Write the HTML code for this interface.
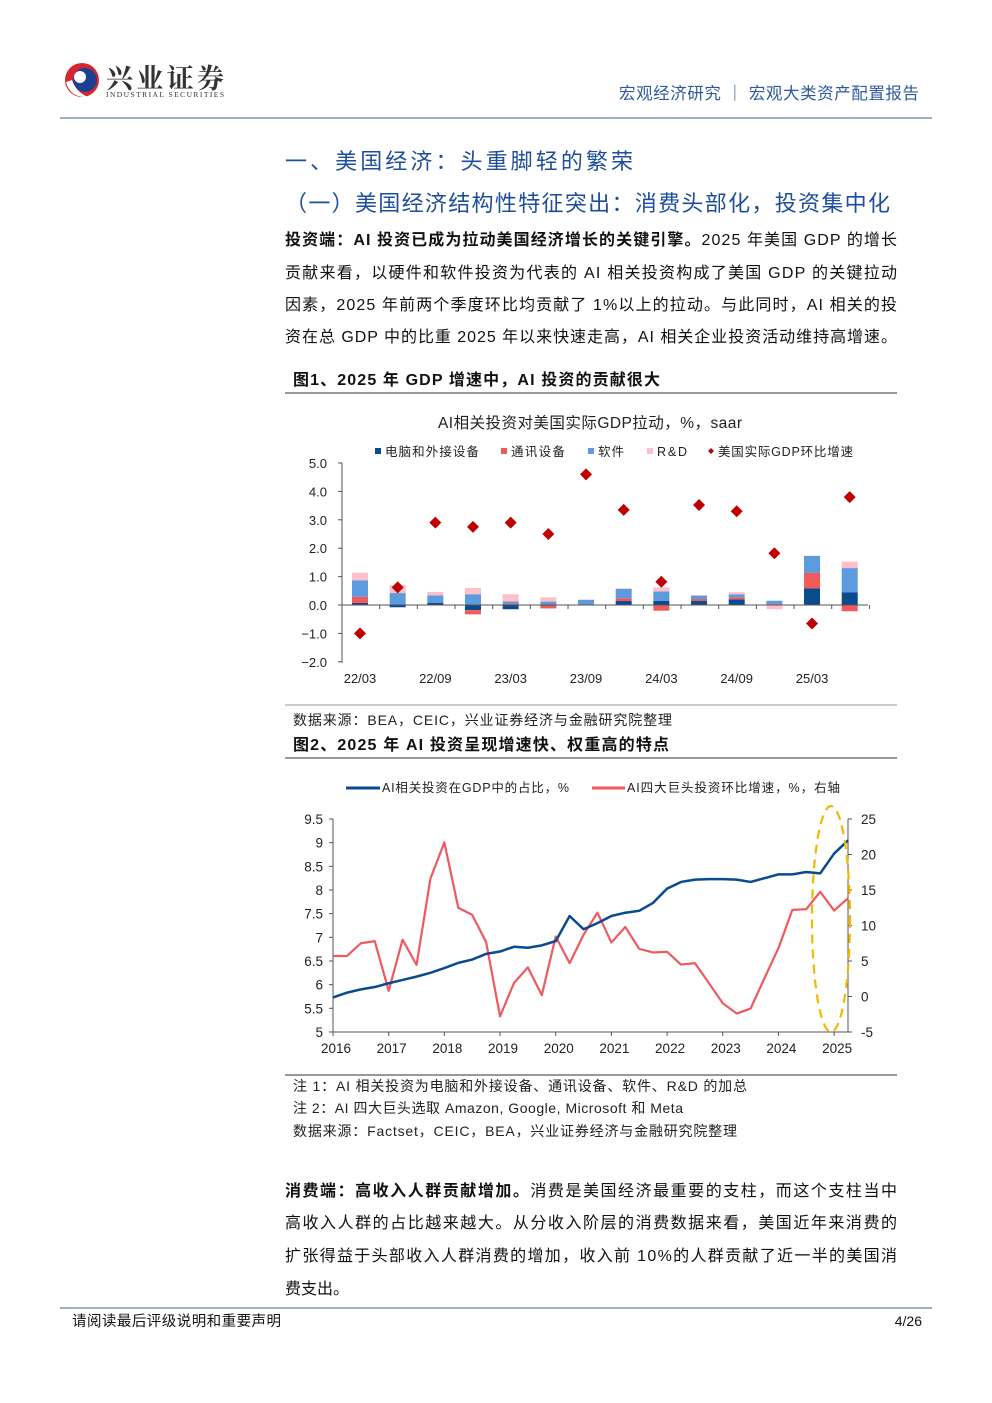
<!DOCTYPE html>
<html><head><meta charset="utf-8"><style>
body{margin:0;background:#fff}
svg{display:block;font-family:"Liberation Sans","Noto Sans CJK SC",sans-serif}
</style></head><body>
<svg id="s" width="992" height="1403" viewBox="0 0 992 1403" xmlns="http://www.w3.org/2000/svg">
<g>
<circle cx="82" cy="80" r="17" fill="#d7262d"/>
<circle cx="85" cy="80" r="12" fill="#1d3f91"/>
<circle cx="80" cy="77" r="6" fill="#fff"/>
<path d="M66 82 Q70 98 88 97 Q76 92 72 80 Z" fill="#fff"/>
<text x="106" y="88" font-size="27" font-weight="bold" fill="#333" font-family="'Noto Serif CJK SC',serif" textLength="118">兴业证券</text>
<text x="106" y="97" font-size="7.5" fill="#333" font-family="'Liberation Serif',serif" textLength="118">INDUSTRIAL SECURITIES</text>
<text x="619" y="99" font-size="16.5" fill="#2e5a9c" textLength="300">宏观经济研究 ｜ 宏观大类资产配置报告</text>
<line x1="60" y1="118" x2="932" y2="118" stroke="#7f96b8" stroke-width="1.5"/>
</g>
<text x="285" y="169" font-size="22" fill="#1f4e9a" textLength="348">一、美国经济：头重脚轻的繁荣</text>
<text x="285" y="211" font-size="22" fill="#1f4e9a" textLength="605">（一）美国经济结构性特征突出：消费头部化，投资集中化</text>
<g font-size="16" fill="#111">
<text x="285" y="245" textLength="612" lengthAdjust="spacing"><tspan font-weight="bold">投资端：AI 投资已成为拉动美国经济增长的关键引擎。</tspan>2025 年美国 GDP 的增长</text>
<text x="285" y="278" textLength="612" lengthAdjust="spacing">贡献来看，以硬件和软件投资为代表的 AI 相关投资构成了美国 GDP 的关键拉动</text>
<text x="285" y="310" textLength="612" lengthAdjust="spacing">因素，2025 年前两个季度环比均贡献了 1%以上的拉动。与此同时，AI 相关的投</text>
<text x="285" y="342" textLength="612" lengthAdjust="spacing">资在总 GDP 中的比重 2025 年以来快速走高，AI 相关企业投资活动维持高增速。</text>
<text x="293" y="385" font-weight="bold" textLength="367">图1、2025 年 GDP 增速中，AI 投资的贡献很大</text>
<text x="293" y="750" font-weight="bold" textLength="376">图2、2025 年 AI 投资呈现增速快、权重高的特点</text>
<text x="285" y="1196" textLength="612" lengthAdjust="spacing"><tspan font-weight="bold">消费端：高收入人群贡献增加。</tspan>消费是美国经济最重要的支柱，而这个支柱当中</text>
<text x="285" y="1228" textLength="612" lengthAdjust="spacing">高收入人群的占比越来越大。从分收入阶层的消费数据来看，美国近年来消费的</text>
<text x="285" y="1261" textLength="612" lengthAdjust="spacing">扩张得益于头部收入人群消费的增加，收入前 10%的人群贡献了近一半的美国消</text>
<text x="285" y="1294">费支出。</text>
</g>
<line x1="285" y1="393" x2="897" y2="393" stroke="#333" stroke-width="1"/>
<line x1="285" y1="705" x2="897" y2="705" stroke="#999" stroke-width="1"/>
<line x1="285" y1="758" x2="897" y2="758" stroke="#333" stroke-width="1"/>
<line x1="285" y1="1075" x2="897" y2="1075" stroke="#333" stroke-width="1"/>
<g font-size="14" fill="#222">
<text x="293" y="725" textLength="379">数据来源：BEA，CEIC，兴业证券经济与金融研究院整理</text>
<text x="293" y="1091" textLength="454">注 1：AI 相关投资为电脑和外接设备、通讯设备、软件、R&amp;D 的加总</text>
<text x="293" y="1113" textLength="390">注 2：AI 四大巨头选取 Amazon, Google, Microsoft 和 Meta</text>
<text x="293" y="1136" textLength="444">数据来源：Factset，CEIC，BEA，兴业证券经济与金融研究院整理</text>
</g>
<text x="438" y="428" font-size="15.5" fill="#222" textLength="304">AI相关投资对美国实际GDP拉动，%，saar</text>
<g font-size="12.5" fill="#222">
<rect x="375" y="448" width="6" height="6" fill="#0a4a8f"/><text x="385" y="456" textLength="94">电脑和外接设备</text>
<rect x="501" y="448" width="6" height="6" fill="#f05a5a"/><text x="511" y="456" textLength="54">通讯设备</text>
<rect x="588" y="448" width="6" height="6" fill="#5b9bde"/><text x="598" y="456" textLength="26">软件</text>
<rect x="647" y="448" width="6" height="6" fill="#ffc0cb"/><text x="657" y="456" textLength="30">R&amp;D</text>
<path d="M711 448 L714 451 L711 454 L708 451Z" fill="#c00000"/><text x="718" y="456" textLength="135">美国实际GDP环比增速</text>
</g>
<g id="c1"></g>
<g font-size="12.5" fill="#222">
<line x1="346" y1="788" x2="380" y2="788" stroke="#0a4a8f" stroke-width="3"/><text x="382" y="792" textLength="187">AI相关投资在GDP中的占比，%</text>
<line x1="592" y1="788" x2="625" y2="788" stroke="#ee5a5f" stroke-width="3"/><text x="627" y="792" textLength="213">AI四大巨头投资环比增速，%，右轴</text>
</g>
<g id="c2"></g>
<line x1="60" y1="1308" x2="932" y2="1308" stroke="#7f96b8" stroke-width="1.5"/>
<text x="72" y="1326" font-size="14.5" fill="#111" textLength="209">请阅读最后评级说明和重要声明</text>
<text x="922" y="1326" font-size="14" fill="#111" text-anchor="end">4/26</text>
</svg>
<script>
var NS="http://www.w3.org/2000/svg";
function el(p,t,a,txt){var e=document.createElementNS(NS,t);for(var k in a)e.setAttribute(k,a[k]);if(txt!=null)e.textContent=txt;p.appendChild(e);return e;}
var c1=document.getElementById("c1");
var Y=function(v){return 605-v*28.4;};
var ax=342,x0=360,dx=37.67;
var bars=[[0.07,0.22,0.58,0.27],[-0.08,0,0.42,0.28],[0.07,0,0.27,0.12],[-0.18,-0.15,0.38,0.22],[-0.15,0.05,0.08,0.25],[0,-0.12,0.12,0.15],[0,0,0.18,0.02],[0.14,0.1,0.33,0.02],[0.15,-0.2,0.33,0.14],[0.14,0.07,0.12,0.02],[0.2,0.07,0.1,0.08],[0,0.03,0.12,-0.15],[0.58,0.55,0.6,0],[0.45,-0.22,0.85,0.23]];
var gdp=[-1.0,0.62,2.9,2.75,2.9,2.5,4.6,3.35,0.82,3.52,3.3,1.82,-0.65,3.8];
var cols=["#0a4a8f","#f05a5a","#5b9bde","#ffc0cb"];
el(c1,"line",{x1:ax,y1:463,x2:ax,y2:663,stroke:"#555"});
for(var v=-2;v<=5;v++){var y=Y(v);el(c1,"line",{x1:ax-4,y1:y,x2:ax,y2:y,stroke:"#555"});
el(c1,"text",{x:327,y:y+5,"font-size":13,fill:"#222","text-anchor":"end"},(v<0?"−":"")+Math.abs(v).toFixed(1));}
bars.forEach(function(b,i){var cx=x0+i*dx,p=0,n=0;b.forEach(function(v,j){if(v>0){el(c1,"rect",{x:cx-8,y:Y(p+v),width:16,height:v*28.4,fill:cols[j]});p+=v;}else if(v<0){el(c1,"rect",{x:cx-8,y:Y(n),width:16,height:-v*28.4,fill:cols[j]});n+=v;}});});
el(c1,"line",{x1:ax,y1:605,x2:868,y2:605,stroke:"#555"});
for(var i=0;i<=14;i++){var x=ax+i*dx;el(c1,"line",{x1:x,y1:605,x2:x,y2:609,stroke:"#555"});}
gdp.forEach(function(v,i){var cx=x0+i*dx,y=Y(v);el(c1,"path",{d:"M"+cx+" "+(y-6)+"L"+(cx+6)+" "+y+"L"+cx+" "+(y+6)+"L"+(cx-6)+" "+y+"Z",fill:"#c00000"});});
["22/03","22/09","23/03","23/09","24/03","24/09","25/03"].forEach(function(t,k){el(c1,"text",{x:x0+k*2*dx,y:683,"font-size":13,fill:"#222","text-anchor":"middle"},t);});
var c2=document.getElementById("c2");
var L=function(v){return 819+(9.5-v)*47.33;},R=function(v){return 819+(25-v)*7.1;};
var X=function(i){return 333+i*13.92;};
el(c2,"line",{x1:333,y1:819,x2:333,y2:1032,stroke:"#555"});
el(c2,"line",{x1:848,y1:819,x2:848,y2:1032,stroke:"#555"});
el(c2,"line",{x1:333,y1:1032,x2:848,y2:1032,stroke:"#555"});
[9.5,9,8.5,8,7.5,7,6.5,6,5.5,5].forEach(function(v){var y=L(v);el(c2,"line",{x1:329,y1:y,x2:333,y2:y,stroke:"#555"});el(c2,"text",{x:323,y:y+5,"font-size":13.5,fill:"#222","text-anchor":"end"},String(v));});
[25,20,15,10,5,0,-5].forEach(function(v){var y=R(v);el(c2,"line",{x1:848,y1:y,x2:852,y2:y,stroke:"#555"});el(c2,"text",{x:861,y:y+5,"font-size":13.5,fill:"#222"},String(v));});
for(var k=0;k<=9;k++){var x=X(k*4);el(c2,"line",{x1:x,y1:1032,x2:x,y2:1036,stroke:"#555"});el(c2,"text",{x:x+3,y:1053,"font-size":13.5,fill:"#222","text-anchor":"middle"},String(2016+k));}
var blue=[5.73,5.83,5.9,5.95,6.03,6.1,6.17,6.25,6.35,6.46,6.53,6.65,6.7,6.8,6.78,6.83,6.92,7.45,7.17,7.3,7.45,7.52,7.56,7.73,8.03,8.17,8.22,8.23,8.23,8.22,8.17,8.25,8.33,8.33,8.38,8.35,8.77,9.05];
var red=[5.7,5.7,7.5,7.8,0.8,8,4.45,16.6,21.7,12.5,11.5,7.65,-2.8,1.9,4.1,0.2,8.45,4.7,8.7,11.8,7.6,9.8,6.7,6.2,6.3,4.5,4.7,1.9,-0.95,-2.4,-1.7,2.6,6.8,12.2,12.3,14.75,12.1,13.85];
el(c2,"polyline",{points:red.map(function(v,i){return X(i)+","+R(v);}).join(" "),fill:"none",stroke:"#ee5a5f","stroke-width":2.2,"stroke-linejoin":"round"});
el(c2,"polyline",{points:blue.map(function(v,i){return X(i)+","+L(v);}).join(" "),fill:"none",stroke:"#0a4a8f","stroke-width":2.5,"stroke-linejoin":"round"});
el(c2,"ellipse",{cx:831,cy:919,rx:19,ry:113,fill:"none",stroke:"#f5b800","stroke-width":2.2,"stroke-dasharray":"9,6"});
</script>
</body></html>
